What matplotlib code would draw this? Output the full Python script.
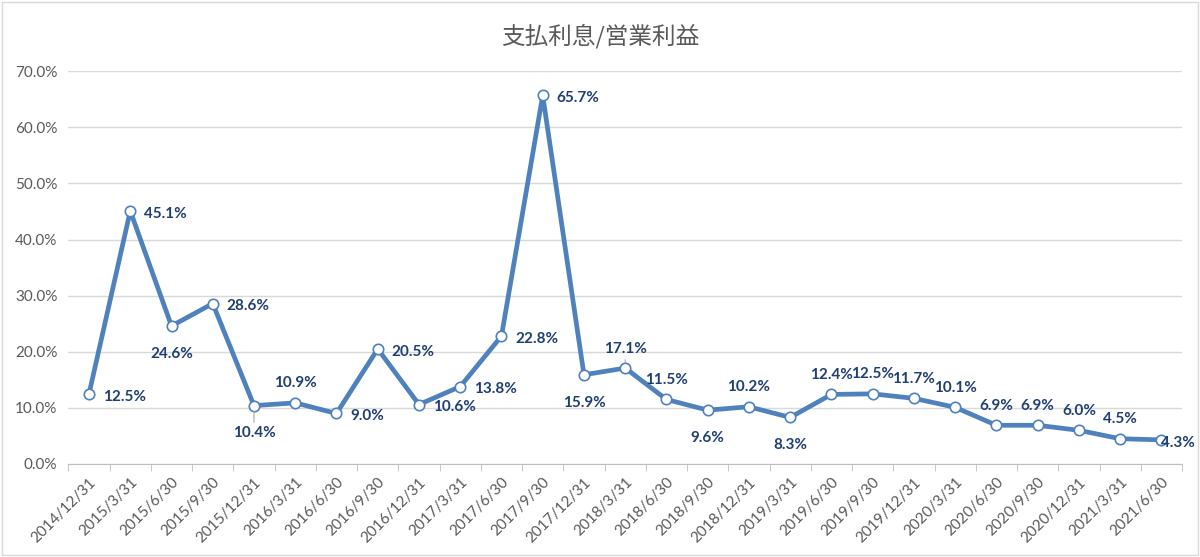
import matplotlib.pyplot as plt
from matplotlib.ticker import FuncFormatter, FixedLocator
import numpy as np

plt.rcParams['font.family'] = ['Lato', 'Noto Sans CJK JP', 'DejaVu Sans']

dates = ["2014/12/31", "2015/3/31", "2015/6/30", "2015/9/30", "2015/12/31",
         "2016/3/31", "2016/6/30", "2016/9/30", "2016/12/31", "2017/3/31",
         "2017/6/30", "2017/9/30", "2017/12/31", "2018/3/31", "2018/6/30",
         "2018/9/30", "2018/12/31", "2019/3/31", "2019/6/30", "2019/9/30",
         "2019/12/31", "2020/3/31", "2020/6/30", "2020/9/30", "2020/12/31",
         "2021/3/31", "2021/6/30"]
ratio = [12.5, 45.1, 24.6, 28.6, 10.4, 10.9, 9.0, 20.5, 10.6, 13.8, 22.8,
         65.7, 15.9, 17.1, 11.5, 9.6, 10.2, 8.3, 12.4, 12.5, 11.7, 10.1,
         6.9, 6.9, 6.0, 4.5, 4.3]

# where each data label sits: r=right, b=below, t=above, o=on the point
label_pos = ['r', 'r', 'b', 'r', 'b', 't', 'r', 'r', 'r', 'r', 'r', 'r', 'b',
             't', 't', 'b', 't', 'b', 't', 't', 't', 't', 't', 't', 't', 't', 'o']
# labels that got a small leader line in the original
leaders = [4, 13]

line_col = '#4F81BD'
lab_col = '#1F3F73'

fig = plt.figure(figsize=(12, 5.57), dpi=100)
ax = fig.add_axes([0.057, 0.167, 0.928, 0.705])

x = np.arange(len(dates))
ax.plot(x, ratio, color=line_col, lw=3.4, marker='o', ms=7.5,
        mfc='white', mec=line_col, mew=1.2, zorder=3)

for i, (v, p) in enumerate(zip(ratio, label_pos)):
    txt = f"{v:.1f}%"
    kw = dict(textcoords='offset points', color=lab_col, fontsize=11,
              fontweight='bold', zorder=4)
    if i in leaders:
        kw['arrowprops'] = dict(arrowstyle='-', color='#A6A6A6', lw=0.8,
                                shrinkA=1, shrinkB=4)
    if p == 'r':
        ax.annotate(txt, (i, v), xytext=(10, -2), ha='left', va='center', **kw)
    elif p == 'o':
        ax.annotate(txt, (i, v), xytext=(0, -2), ha='left', va='center', **kw)
    elif p == 'b':
        ax.annotate(txt, (i, v), xytext=(0, -15), ha='center', va='top', **kw)
    else:
        ax.annotate(txt, (i, v), xytext=(0, 9), ha='center', va='bottom', **kw)

ax.set_xlim(-0.5, len(dates) - 0.5)
ax.set_ylim(0, 70)
ax.set_yticks(np.arange(0, 71, 10))
ax.yaxis.set_major_formatter(FuncFormatter(lambda v, _: f"{v:.1f}%"))
ax.grid(axis='y', color='#D9D9D9', lw=1)
ax.set_axisbelow(True)

ax.set_xticks(x)
ax.set_xticklabels(dates, rotation=45, ha='right', rotation_mode='anchor')
ax.xaxis.set_minor_locator(FixedLocator(np.arange(-0.5, len(dates), 1)))
ax.tick_params(axis='x', which='major', length=0, pad=8)
ax.tick_params(axis='x', which='minor', length=5, color='#BFBFBF')
ax.tick_params(axis='y', length=0, pad=8)
ax.tick_params(labelsize=11, labelcolor='#595959')

for s in ['top', 'right', 'left']:
    ax.spines[s].set_visible(False)
ax.spines['bottom'].set_color('#BFBFBF')

fig.text(0.5, 0.935, "支払利息/営業利益", ha='center', va='center',
         fontsize=17, color='#595959', family=['Noto Sans CJK JP', 'DejaVu Sans'])
fig.patches.append(plt.Rectangle((0.002, 0.004), 0.996, 0.992, transform=fig.transFigure,
                                 fill=False, edgecolor='#D9D9D9', lw=1))

fig.savefig('out.png', dpi=100)
